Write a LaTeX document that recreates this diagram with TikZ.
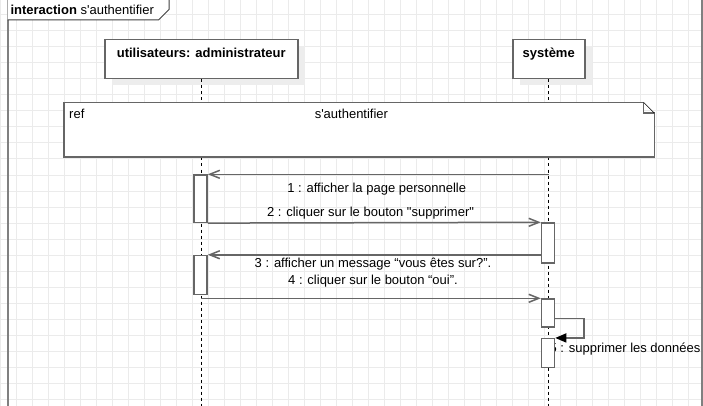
\documentclass[tikz,border=0pt]{standalone}
\usepackage{fontspec}
\setmainfont{Liberation Sans}
\usetikzlibrary{arrows.meta,shadows}
\definecolor{gridgray}{HTML}{EBEBEB}
\definecolor{boxgray}{HTML}{666666}
\definecolor{shadegray}{HTML}{EDEDED}
\definecolor{framegray}{HTML}{808080}

\begin{document}
\begin{tikzpicture}[x=1pt, y=-1pt,
  every node/.style={font=\fontsize{13}{15}\selectfont, inner sep=0pt},
  lifebox/.style={draw=boxgray, line width=1.5pt, fill=white, anchor=north west, minimum height=39pt, text height=18pt, text depth=21pt, font=\fontsize{13}{15}\selectfont\bfseries, drop shadow={shadow xshift=7pt, shadow yshift=-6pt, fill=shadegray, opacity=1}},
  actbox/.style={draw=boxgray, line width=1.5pt, fill=white, minimum width=13pt},
  lifeline/.style={black, line width=1pt, dash pattern=on 3pt off 3pt},
  msg/.style={boxgray, line width=1.5pt, -{Straight Barb[length=10pt, width=8pt]}},
  selfmsg/.style={boxgray, line width=1.5pt, -{Triangle[length=11pt, width=9pt, color=black]}}]
\useasboundingbox (0,0) rectangle (703,406);
\foreach \gx in {0,...,43}
  \draw[gridgray, line width=1pt] (16*\gx+0.5,0) -- (16*\gx+0.5,406);
\foreach \gy in {1,...,25}
  \draw[gridgray, line width=1pt] (0,16*\gy-1) -- (703,16*\gy-1);
\draw[framegray, line width=2pt] (7.7,-10) rectangle (702,420);
\draw[fill=white, draw=black!75, line width=1pt] (7.7,-1) -- (169,-1) -- (169,9.5) -- (158.5,20) -- (7.7,20);
\node[anchor=base west] (title) at (10.3,15) {\textbf{interaction} s\textquotesingle authentifier};
\node[lifebox, minimum width=193pt] (admin) at (104,39) {utilisateurs: administrateur};
\node[lifebox, minimum width=72pt] (sys) at (512,39) {système};
\coordinate (bottom) at (0,410);
\draw[lifeline] (admin.south) -- (admin.south |- bottom);
\draw[lifeline] (sys.south) -- (sys.south |- bottom);
\node[anchor=north west, minimum width=590pt, minimum height=54pt] (refbox) at (64,102.5) {};
\draw[fill=white, draw=boxgray, line width=1.5pt] (refbox.north west) -- ([xshift=-10.7pt]refbox.north east) |- ([yshift=-10.7pt]refbox.north east) -- (refbox.south east) -- (refbox.south west) -- cycle;
\draw[black, line width=0.6pt] ([xshift=-10.7pt]refbox.north east) -- ([yshift=-10.7pt]refbox.north east);
\node[anchor=base west] (reftag) at (69,118.3) {ref};
\node[anchor=base] (refname) at (351.4,118.3) {s\textquotesingle authentifier};
\node[anchor=west] (l5) at (549.4,349.3) {5 : supprimer les données};
\node[actbox, minimum height=47.3pt] (act1) at (200.5,198.7) {};
\node[actbox, minimum height=39.7pt] (act2) at (548,242.9) {};
\node[actbox, minimum height=38.8pt] (act3) at (200.5,274.9) {};
\node[actbox, minimum height=27.7pt] (act4) at (548,312.9) {};
\node[actbox, minimum height=28.6pt] (act5) at (548,353) {};
\draw[msg] (act1.north east -| sys.south) -- (act1.north east);
\draw[msg] (act1.south east) -- (act2.north west);
\draw[msg] (act3.north east -| act2.west) -- (act3.north east);
\draw[msg] (act4.north west -| admin.south) -- (act4.north west);
\coordinate (turn) at (584,318.3);
\draw[selfmsg] (act4.east |- turn) -- (turn) |- (act5.north east);
\node (l1) at (376.7,188.8) {1 : afficher la page personnelle};
\node (l2) at (370.5,212.8) {2 : cliquer sur le bouton \textquotedbl supprimer\textquotedbl};
\node (l3) at (373,264.5) {3 : afficher un message “vous êtes sur?”.};
\node (l4) at (373,281.5) {4 : cliquer sur le bouton “oui”.};
\end{tikzpicture}
\end{document}
